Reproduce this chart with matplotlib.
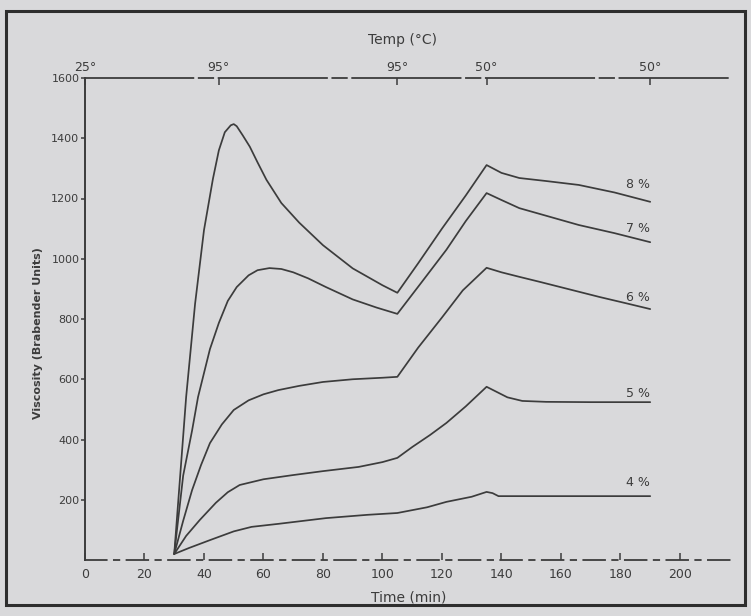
import matplotlib
matplotlib.use("Agg")
import matplotlib.pyplot as plt
from matplotlib.patches import Rectangle

# ---------------- data ----------------
t8 = [30, 32, 34, 37, 40, 43, 45, 47, 49, 50, 51, 53, 55.4, 58, 61, 66, 72, 80, 90, 100, 105,
      112, 120, 128, 135, 140, 146, 155, 166, 178, 190]
v8 = [20, 280, 541, 850, 1095, 1265, 1360, 1420, 1443, 1447, 1440, 1410, 1372, 1320, 1262,
      1185, 1120, 1045, 968, 912, 887, 985, 1100, 1210, 1311, 1285, 1268, 1258, 1245, 1220, 1189]

t7 = [30, 33, 36, 38, 42, 45, 48, 51, 55, 58, 62, 66, 70, 75, 81, 90, 98, 105,
      113, 121.5, 128, 135, 140, 146, 156, 166, 178, 190]
v7 = [20, 280, 430, 541, 700, 787, 860, 906, 945, 962, 969, 966, 955, 935, 906, 865, 838, 817,
      920, 1030, 1125, 1218, 1195, 1168, 1140, 1112, 1085, 1055]

t6 = [30, 33, 36, 39, 42, 46, 50, 55, 60, 65, 72, 80, 90, 100, 105,
      112, 120, 127, 135, 140, 146, 153, 163, 173, 182, 190]
v6 = [20, 130, 232, 315, 388, 450, 498, 530, 550, 564, 578, 591, 600, 605, 608,
      705, 805, 895, 970, 955, 940, 923, 898, 873, 852, 833]

t5 = [30, 34, 38.6, 44, 48, 52, 60, 70, 80, 92, 100, 105,
      110, 116, 121.5, 128, 135, 138, 142, 147, 155, 170, 190]
v5 = [20, 80, 133, 190, 225, 249, 268, 282, 295, 309, 325, 339,
      375, 415, 455, 510, 575, 560, 540, 528, 525, 524, 524]

t4 = [30, 35, 42, 50, 56, 65, 81, 95, 105, 115, 121.5, 130, 135, 137, 139, 150, 170, 190]
v4 = [20, 40, 66, 95, 110, 120, 139, 150, 156, 175, 193, 210, 226, 222, 212, 212, 212, 212]

series = [(t8, v8, "8 %", 1245), (t7, v7, "7 %", 1099), (t6, v6, "6 %", 873),
          (t5, v5, "5 %", 554), (t4, v4, "4 %", 256)]

x_ticks = [0, 20, 40, 60, 80, 100, 120, 140, 160, 180, 200]
y_ticks = [200, 400, 600, 800, 1000, 1200, 1400, 1600]
temp_pos = [0, 45, 105, 135, 190]
temp_labels = ["25°", "95°", "95°", "50°", "50°"]

# ---------------- figure ----------------
bg = "#d9d9db"
ink = "#3c3c3c"
plt.rcParams['font.family'] = ['DejaVu Sans']

fig = plt.figure(figsize=(7.51, 6.16), dpi=100, facecolor=bg)
ax = fig.add_axes([85/751, 56/616, 647/751, 482/616])
ax.set_facecolor(bg)

for t, v, lab, ly in series:
    ax.plot(t, v, color=ink, lw=1.25, solid_joinstyle='round', solid_capstyle='round')
    ax.text(186, ly, lab, ha='center', va='center', fontsize=9, color=ink)

ax.set_xlim(0, 217.5)
ax.set_ylim(0, 1600)

ax.spines['right'].set_visible(False)
ax.spines['top'].set_visible(False)
ax.spines['left'].set_color(ink)
ax.spines['left'].set_linewidth(1.4)
ax.spines['bottom'].set_color(ink)
ax.spines['bottom'].set_linewidth(1.3)
ax.spines['bottom'].set_linestyle((0, (12, 4, 3, 4)))

ax.set_xticks(x_ticks)
ax.set_xticklabels([str(x) for x in x_ticks])
ax.set_yticks(y_ticks)
ax.set_yticklabels([str(y) for y in y_ticks])
ax.tick_params(axis='x', direction='in', length=5, width=1.1, color=ink,
               labelsize=9, labelcolor=ink, pad=6)
ax.tick_params(axis='y', direction='out', length=3, width=1.1, color=ink,
               labelsize=8, labelcolor=ink, pad=1)

ax.set_xlabel("Time (min)", fontsize=10, color=ink)
ax.xaxis.set_label_coords(0.5, -0.063)
ax.set_ylabel("Viscosity (Brabender Units)", fontsize=8, color=ink,
              fontweight='bold')
ax.yaxis.set_label_coords(-0.065, 0.47)

# top temperature axis
sec = ax.secondary_xaxis('top')
sec.set_xticks(temp_pos)
sec.set_xticklabels(temp_labels)
sec.tick_params(axis='x', direction='in', length=5, width=1.1, color=ink,
                labelsize=9, labelcolor=ink, pad=3)
sec.spines['top'].set_color(ink)
sec.spines['top'].set_linewidth(1.3)
sec.spines['top'].set_linestyle((0, (60, 3, 8, 3)))
ax.text(0.49, 1.079, "Temp (°C)", transform=ax.transAxes, ha='center',
        va='center', fontsize=10, color=ink)

# outer frame
fig.patches.append(Rectangle((6/751, 11/616), 739/751, 594/616, transform=fig.transFigure,
                             fill=False, edgecolor="#2e2e2e", lw=2.2))

fig.savefig("out.png", dpi=100, facecolor=bg)
